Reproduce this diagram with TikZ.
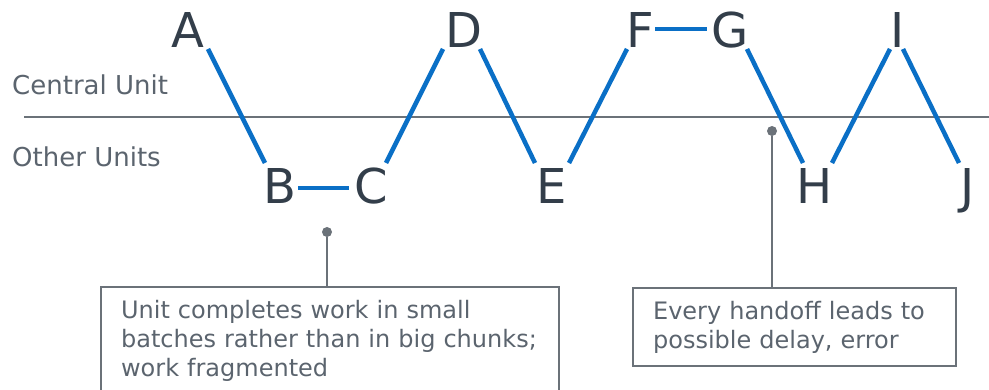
\documentclass[tikz,border=0pt]{standalone}
\usepackage{fontspec}
\setmainfont{DejaVu Sans}
\definecolor{blu}{HTML}{0A6FC6}
\definecolor{ink}{HTML}{333E4A}
\definecolor{gtext}{HTML}{5B646E}
\definecolor{gline}{HTML}{6B7279}
\begin{document}
\begin{tikzpicture}[x=1pt,y=-1pt,
  letter/.style={font=\fontsize{48}{58}\selectfont, text=ink, anchor=base, inner sep=0pt, text height=35pt, text depth=0pt},
  link/.style={draw=blu, line width=4.5pt},
  lab/.style={font=\fontsize{26}{31}\selectfont, text=gtext, anchor=base west, inner sep=0pt},
  note/.style={draw=gline, line width=2.2pt, font=\fontsize{24}{29}\selectfont, text=gtext, align=left, anchor=north west, inner xsep=20pt, inner ysep=13pt},
  dotmark/.style={circle, fill=gline, inner sep=0pt, minimum size=10pt},
  lead/.style={draw=gline, line width=2.2pt},
  divider/.style={draw=gline, line width=2.2pt}]
\clip (0,0) rectangle (989,390);
% divider and side labels
\coordinate (divL) at (24,117);
\coordinate (divR) at (989,117);
\draw[divider] (divL) -- (divR);
\node[lab] (central) at (12,95) {Central Unit};
\node[lab] (other) at (12,167) {Other Units};
% letters
\node[letter] (A) at (188,48) {A};
\node[letter] (B) at (280,204) {B};
\node[letter] (C) at (371,204) {C};
\node[letter] (D) at (464,48) {D};
\node[letter] (E) at (552,204) {E};
\node[letter] (F) at (640,48) {F};
\node[letter] (G) at (730,48) {G};
\node[letter] (H) at (815,204) {H};
\node[letter] (I) at (898,48) {I};
\node[letter] (J) at (968,204) {J};
% links
\draw[link] ([shift={(20,18.5)}]A.center) -- ([shift={(-15,-23.5)}]B.center);
\draw[link] ([shift={(18,1.5)}]B.center) -- ([shift={(-22,1.5)}]C.center);
\draw[link] ([shift={(15,-23.5)}]C.center) -- ([shift={(-21,18.5)}]D.center);
\draw[link] ([shift={(16,18.5)}]D.center) -- ([shift={(-17,-23.5)}]E.center);
\draw[link] ([shift={(17,-23.5)}]E.center) -- ([shift={(-13,18.5)}]F.center);
\draw[link] ([shift={(15,-1.5)}]F.center) -- ([shift={(-23,-1.5)}]G.center);
\draw[link] ([shift={(17,18.5)}]G.center) -- ([shift={(-12,-23.5)}]H.center);
\draw[link] ([shift={(17,-23.5)}]H.center) -- ([shift={(-8,18.5)}]I.center);
\draw[link] ([shift={(5,18.5)}]I.center) -- ([shift={(-9,-23.5)}]J.center);
% notes
\node[note, text width=418pt] (n1) at (100,286) {Unit completes work in small\\batches rather than in big chunks;\\work fragmented};
\node[note, text width=283pt] (n2) at (632,287) {Every handoff leads to\\possible delay, error};
\node[dotmark] (d1) at (327,232) {};
\node[dotmark] (d2) at (772,131) {};
\draw[lead] (d1) -- (d1 |- n1.north);
\draw[lead] (d2) -- (d2 |- n2.north);
\end{tikzpicture}
\end{document}
